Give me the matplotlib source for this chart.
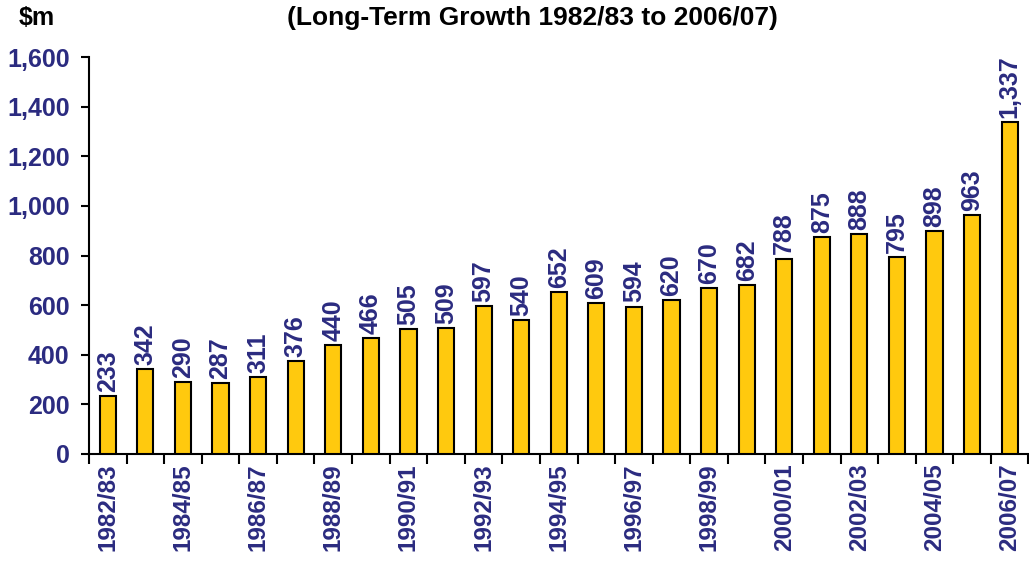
import numpy as np
import matplotlib.pyplot as plt

years = ['1982/83', '1983/84', '1984/85', '1985/86', '1986/87', '1987/88',
         '1988/89', '1989/90', '1990/91', '1991/92', '1992/93', '1993/94',
         '1994/95', '1995/96', '1996/97', '1997/98', '1998/99', '1999/00',
         '2000/01', '2001/02', '2002/03', '2003/04', '2004/05', '2005/06',
         '2006/07']
values = [233, 342, 290, 287, 311, 376, 440, 466, 505, 509, 597, 540, 652,
          609, 594, 620, 670, 682, 788, 875, 888, 795, 898, 963, 1337]

navy = '#2B2B80'
gold = '#FFC90E'

plt.rcParams['font.family'] = ['Liberation Sans', 'DejaVu Sans']
plt.rcParams['font.weight'] = 'bold'

fig = plt.figure(figsize=(10.29, 5.66), dpi=100)
ax = fig.add_axes([0.0865, 0.198, 0.913, 0.701])

x = np.arange(len(values))
ax.bar(x, values, width=0.43, color=gold, edgecolor='black', linewidth=1.5, zorder=3)

for xi, v in zip(x, values):
    ax.annotate(f'{v:,}', (xi, v), xytext=(0, 3), textcoords='offset points',
                rotation=90, ha='center', va='bottom', color=navy,
                fontsize=18, fontweight='bold')

ax.set_xlim(-0.5, len(values) - 0.5)
ax.set_ylim(0, 1600)
ax.set_yticks(range(0, 1601, 200))
ax.set_yticklabels([f'{t:,}' for t in range(0, 1601, 200)], color=navy,
                   fontsize=18, fontweight='bold')

ax.set_xticks(x[::2])
ax.set_xticklabels(years[::2], rotation=90, color=navy, fontsize=17.5,
                   fontweight='bold', va='top')
ax.tick_params(axis='x', which='major', length=0, pad=7)
ax.set_xticks(np.arange(-0.5, len(values), 1), minor=True)
ax.tick_params(axis='x', which='minor', length=7, width=1.5, direction='out')
ax.tick_params(axis='y', length=6, width=1.5, direction='out', pad=8)

for side in ['top', 'right']:
    ax.spines[side].set_visible(False)
for side in ['left', 'bottom']:
    ax.spines[side].set_linewidth(1.5)

fig.text(0.036, 0.99, '$m', fontsize=18, fontweight='bold', ha='center', va='top')
fig.text(0.517, 0.99, '(Long-Term Growth 1982/83 to 2006/07)', fontsize=19,
         fontweight='bold', ha='center', va='top')

fig.savefig('out.png', dpi=100)
